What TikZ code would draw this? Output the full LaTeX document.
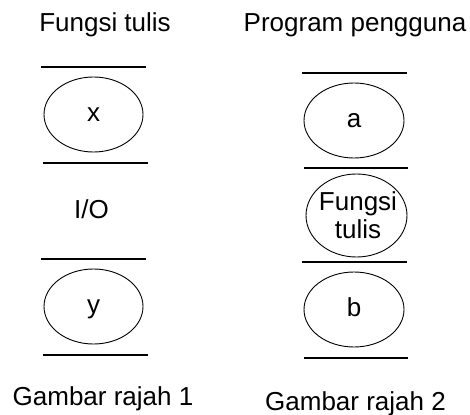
\documentclass[tikz,border=0pt]{standalone}
\usepackage{fontspec}
\setmainfont{Liberation Sans}
\usetikzlibrary{shapes.geometric}
\begin{document}
\begin{tikzpicture}[x=1pt,y=-1pt,
  every node/.style={font=\fontsize{26}{28}\selectfont},
  oval/.style={draw, ellipse, line width=0.9pt, inner sep=0pt, text height=13.5pt, text depth=0pt},
  bar/.style={line width=1.3pt},
  lbl/.style={anchor=base, inner sep=0pt}]
\useasboundingbox (0,0) rectangle (470,414);
% headers
\node[lbl] (h1) at (105,32) {Fungsi tulis};
\node[lbl] (h2) at (355,32) {Program pengguna};
% left column
\draw[bar] (41,67) -- (146,67);
\node[oval, minimum width=99pt, minimum height=75pt] (x) at (93.5,114.5) {x};
\draw[bar] (43,163) -- (148,163);
\node[lbl] (io) at (91.5,218) {I/O};
\draw[bar] (41,259) -- (146,259);
\node[oval, minimum width=99pt, minimum height=75pt] (y) at (93.5,306.5) {y};
\draw[bar] (43,355) -- (148,355);
\node[lbl] (c1) at (103,405) {Gambar rajah 1};
% right column
\draw[bar] (302,73) -- (407,73);
\node[oval, minimum width=100pt, minimum height=75pt] (a) at (354,120.5) {a};
\draw[bar] (304,168) -- (408,168);
\node[oval, minimum width=101pt, minimum height=83pt] (f) at (356.5,215.5) {};
\node[align=center, inner sep=0pt] (ft) at (358,215.5) {Fungsi\\tulis};
\draw[bar] (302,262) -- (407,262);
\node[oval, minimum width=100pt, minimum height=75pt] (b) at (354,309.5) {b};
\draw[bar] (304,358) -- (408,358);
\node[lbl] (c2) at (355.5,410) {Gambar rajah 2};
\end{tikzpicture}
\end{document}
